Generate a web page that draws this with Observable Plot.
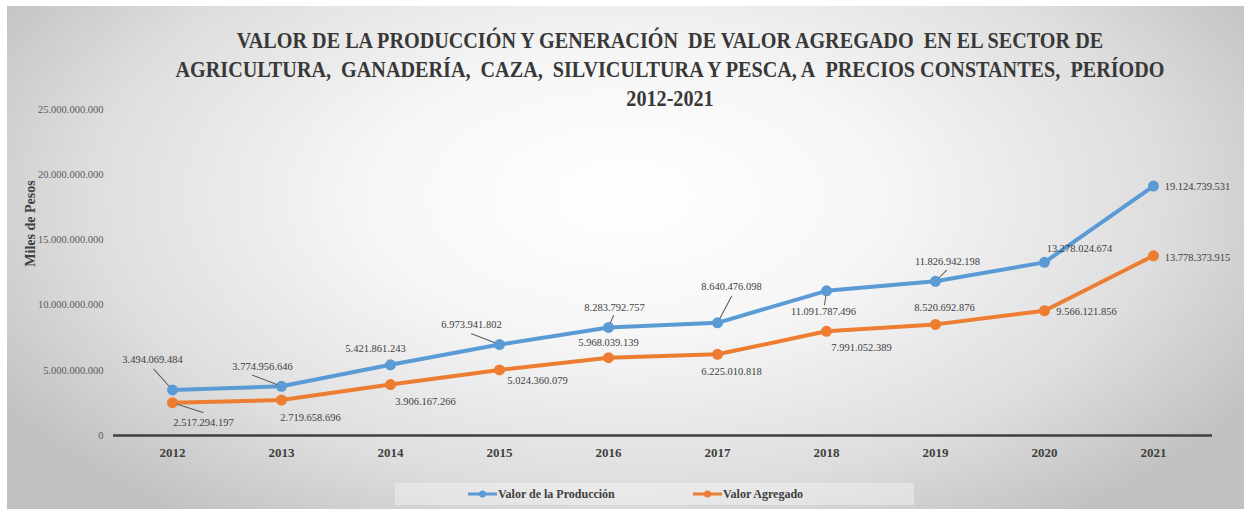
<!DOCTYPE html>
<html>
<head>
<meta charset="utf-8">
<script src="https://cdn.jsdelivr.net/npm/d3@7"></script>
<script src="https://cdn.jsdelivr.net/npm/@observablehq/plot@0.6"></script>
<style>
  html, body { margin: 0; padding: 0; background: #fff; width: 1244px; height: 509px; overflow: hidden; }
  #panel {
    position: absolute; left: 7px; top: 6px; width: 1237px; height: 503px;
    background: radial-gradient(ellipse 60% 80% at 50% 38%, #ffffff 0%, #f6f6f6 35%, #dedede 72%, #c0c0c0 100%);
  }
  #title {
    position: absolute; left: 70px; width: 1200px; top: 26px; text-align: center; white-space: nowrap;
    font-family: "Liberation Serif", "Times New Roman", "DejaVu Serif", serif; font-weight: bold;
    font-size: 24px; line-height: 29px; color: #383838;
    transform: scaleX(0.84); transform-origin: 600px 0; z-index: 2;
  }
  #chart { position: absolute; left: 0; top: 95px; }
  #legend {
    position: absolute; left: 395px; top: 483px; width: 519px; height: 22px;
    background: rgba(255,255,255,0.35);
    font-family: "Liberation Serif", "Times New Roman", "DejaVu Serif", serif; font-weight: bold; font-size: 12px; color: #404040;
  }
  .item { position: absolute; top: 0; height: 22px; display: flex; align-items: center; }
  .item svg { margin-right: 1px; }
</style>
</head>
<body>
<div id="panel"></div>
<div id="title">VALOR DE LA PRODUCCIÓN Y GENERACIÓN&nbsp; DE VALOR AGREGADO&nbsp; EN EL SECTOR DE<br>AGRICULTURA,&nbsp; GANADERÍA,&nbsp; CAZA,&nbsp; SILVICULTURA Y PESCA, A&nbsp; PRECIOS CONSTANTES,&nbsp; PERÍODO<br>2012-2021</div>
<div id="chart"></div>
<div id="legend"></div>
<script>
// ---- data ----
const years = ["2012","2013","2014","2015","2016","2017","2018","2019","2020","2021"];
const produccion = [3494069484, 3774956646, 5421861243, 6973941802, 8283792757, 8640476098, 11091787496, 11826942198, 13278024674, 19124739531];
const agregado   = [2517294197, 2719658696, 3906167266, 5024360079, 5968039139, 6225010818, 7991052389, 8520692876, 9566121856, 13778373915];
const seriesNames = ["Valor de la Producción", "Valor Agregado"];
const yTicks = [0, 5000000000, 10000000000, 15000000000, 20000000000, 25000000000];

// ---- layout (label offsets in px, relative to the point) ----
const prodLabelOffset = [[-20,-30],[-19,-20],[-15,-16],[-28,-20],[6,-20],[14,-36],[-3,21],[12,-20],[35,-14],[44,1]];
const agrLabelOffset  = [[31,20],[29,18],[35,17],[38,11],[0,-15],[14,17],[35,16],[9,-17],[42,1],[44,2]];
// leader lines: [seriesIndex, yearIndex, length(px), angle(deg clockwise from up)]
const leaders = [[0,0,28,-42],[0,1,31,-69],[0,3,30,-69],[0,4,13,23],[0,5,30,28],[0,6,14,188],[0,7,15.5,45],[1,0,32,108]];

const colors = ["#5B9BD5", "#ED7D31"];
const loc = d3.formatLocale({decimal: ",", thousands: ".", grouping: [3], currency: ["$", ""]});
const fmt = loc.format(",");

const rows = [];
years.forEach((yr, i) => {
  rows.push({year: yr, value: produccion[i], series: seriesNames[0], dx: prodLabelOffset[i][0], dy: prodLabelOffset[i][1]});
});
years.forEach((yr, i) => {
  rows.push({year: yr, value: agregado[i], series: seriesNames[1], dx: agrLabelOffset[i][0], dy: agrLabelOffset[i][1]});
});
const leaderRows = leaders.map(([s, i, len, ang]) => ({
  year: years[i], value: s === 0 ? produccion[i] : agregado[i], len, ang
}));

const serif = "'Liberation Serif', 'Times New Roman', 'DejaVu Serif', serif";
const gapShape = {draw(context, l) { context.moveTo(0, -5); context.lineTo(0, -l); }};

const labelMarks = rows.map(d => Plot.text([d], {
  x: "year", y: "value", text: r => fmt(r.value), dx: d.dx, dy: d.dy,
  fill: "#404040", fontSize: 10.5, fontFamily: serif
}));

const plot = Plot.plot({
  width: 1244, height: 375,
  marginTop: 14, marginBottom: 35, marginLeft: 113, marginRight: 32,
  style: {background: "transparent", fontFamily: serif, overflow: "visible"},
  x: {type: "point", domain: years, padding: 0.5, label: null},
  y: {domain: [0, 25000000000], label: null},
  color: {domain: seriesNames, range: colors},
  length: {type: "identity"},
  marks: [
    Plot.axisY({ticks: yTicks, tickFormat: fmt, tickSize: 0, tickPadding: 10, fontSize: 10.5, color: "#595959", label: null, fontFamily: serif}),
    Plot.axisX({tickSize: 0, tickPadding: 12, fontSize: 13, fontWeight: "bold", color: "#404040", label: null, fontFamily: serif}),
    Plot.text(["Miles de Pesos"], {frameAnchor: "left", textAnchor: "middle", text: d => d, rotate: -90, dx: -83, dy: -49, fontSize: 14, fontWeight: "bold", fill: "#404040", fontFamily: serif}),
    Plot.ruleY([0], {stroke: "#3f3f3f", strokeWidth: 2.5}),
    Plot.line(rows, {x: "year", y: "value", z: "series", stroke: "series", strokeWidth: 4, strokeLinejoin: "round"}),
    Plot.dot(rows, {x: "year", y: "value", fill: "series", r: 5.5}),
    Plot.vector(leaderRows, {x: "year", y: "value", length: "len", rotate: "ang", anchor: "start", shape: gapShape, stroke: "#595959", strokeWidth: 1}),
    ...labelMarks
  ]
});
document.getElementById("chart").appendChild(plot);

// legend
const legend = document.getElementById("legend");
const legendPos = [73, 298];
seriesNames.forEach((name, i) => {
  const item = document.createElement("div");
  item.className = "item";
  item.style.left = legendPos[i] + "px";
  item.innerHTML = `<svg width="29" height="10"><line x1="0" x2="29" y1="5" y2="5" stroke="${colors[i]}" stroke-width="3"/><circle cx="14.5" cy="5" r="3.5" fill="${colors[i]}"/></svg><span>${name}</span>`;
  legend.appendChild(item);
});
</script>
</body>
</html>
